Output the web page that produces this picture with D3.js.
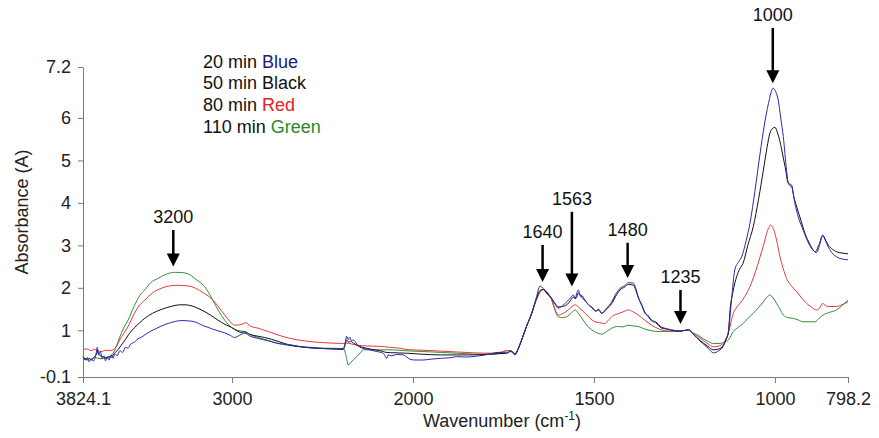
<!DOCTYPE html>
<html lang="en">
<head>
<meta charset="UTF-8">
<title>FTIR absorbance spectra</title>
<script src="https://d3js.org/d3.v7.min.js"></script>
<style>
  body { margin: 0; background: #fff; }
  svg text { font-family: Arial, "Liberation Sans", sans-serif; }
</style>
</head>
<body>
<div id="chart"></div>
<script>
// spectra as [wavenumber cm-1, absorbance] pairs
const blue20 = [[3824.1,0.38],[3812,0.30],[3800,0.36],[3790,0.26],[3778,0.32],[3765,0.28],[3752,0.45],[3745,0.60],[3738,0.42],[3728,0.50],[3718,0.33],[3708,0.40],[3700,0.28],[3690,0.38],[3680,0.30],[3668,0.42],[3658,0.34],[3648,0.45],[3635,0.40],[3620,0.52],[3605,0.48],[3590,0.60],[3575,0.58],[3560,0.68],[3540,0.72],[3520,0.80],[3500,0.84],[3483,0.89],[3450,0.98],[3420,1.04],[3391,1.10],[3340,1.18],[3300,1.22],[3271,1.23],[3240,1.22],[3207,1.20],[3160,1.11],[3115,1.04],[3080,0.99],[3041,0.94],[3010,0.88],[2986,0.83],[2960,0.88],[2930,0.93],[2900,0.86],[2857,0.81],[2800,0.75],[2746,0.69],[2680,0.66],[2600,0.60],[2496,0.57],[2385,0.57],[2375,0.70],[2367,0.86],[2358,0.78],[2350,0.84],[2340,0.76],[2330,0.77],[2311,0.68],[2293,0.60],[2250,0.55],[2200,0.50],[2164,0.46],[2155,0.40],[2146,0.34],[2138,0.42],[2120,0.40],[2090,0.43],[2054,0.42],[2035,0.37],[2017,0.32],[1995,0.30],[1972,0.30],[1950,0.32],[1925,0.34],[1900,0.35],[1879,0.38],[1850,0.37],[1824,0.39],[1800,0.42],[1787,0.44],[1765,0.48],[1741,0.47],[1730,0.52],[1718,0.42],[1710,0.55],[1700,0.77],[1686,1.10],[1672,1.40],[1660,1.75],[1649,2.04],[1640,1.98],[1630,1.90],[1617,1.75],[1605,1.58],[1599,1.52],[1587,1.58],[1575,1.67],[1565,1.76],[1557,1.83],[1552,1.74],[1548,1.86],[1543,1.95],[1538,1.80],[1534,1.82],[1525,1.71],[1515,1.60],[1506,1.55],[1495,1.46],[1487,1.50],[1479,1.40],[1465,1.52],[1451,1.67],[1440,1.85],[1428,1.99],[1415,2.05],[1405,2.12],[1391,2.11],[1385,2.00],[1378,1.79],[1368,1.58],[1359,1.40],[1350,1.32],[1341,1.22],[1330,1.18],[1313,1.05],[1300,1.03],[1285,1.01],[1262,0.98],[1239,1.01],[1225,0.90],[1216,0.82],[1198,0.68],[1185,0.58],[1170,0.47],[1155,0.52],[1143,0.62],[1135,0.80],[1129,0.95],[1120,1.71],[1111,2.42],[1100,2.62],[1092,2.73],[1080,3.10],[1069,3.52],[1055,4.30],[1041,5.17],[1030,5.80],[1018,6.34],[1005,6.70],[998,6.62],[991,6.42],[984,6.00],[977,5.56],[968,4.77],[963,4.46],[958,4.40],[954,4.38],[945,3.99],[935,3.65],[922,3.36],[910,3.10],[899,2.93],[885,2.83],[877,3.00],[868,3.23],[860,3.10],[853,2.97],[840,2.80],[830,2.73],[815,2.68],[798.2,2.66]];

const black50 = [[3824.1,0.36],[3812,0.33],[3800,0.30],[3790,0.34],[3778,0.30],[3765,0.36],[3752,0.42],[3745,0.52],[3738,0.44],[3728,0.40],[3715,0.38],[3704,0.36],[3690,0.34],[3680,0.38],[3668,0.36],[3658,0.42],[3645,0.48],[3630,0.55],[3612,0.65],[3590,0.78],[3575,0.88],[3540,1.06],[3510,1.18],[3483,1.28],[3440,1.40],[3391,1.49],[3330,1.57],[3290,1.60],[3260,1.60],[3220,1.57],[3170,1.48],[3120,1.36],[3078,1.24],[3040,1.14],[3004,1.07],[2970,0.98],[2950,0.95],[2930,0.96],[2900,0.90],[2857,0.86],[2820,0.83],[2746,0.74],[2680,0.65],[2600,0.60],[2496,0.57],[2385,0.55],[2375,0.66],[2367,0.77],[2355,0.72],[2345,0.74],[2330,0.70],[2311,0.65],[2250,0.57],[2164,0.50],[2150,0.48],[2100,0.47],[2035,0.46],[1980,0.44],[1925,0.42],[1880,0.42],[1833,0.42],[1790,0.44],[1741,0.46],[1730,0.50],[1718,0.43],[1710,0.55],[1700,0.77],[1686,1.10],[1672,1.40],[1660,1.72],[1649,1.94],[1640,1.96],[1630,1.88],[1617,1.75],[1605,1.60],[1599,1.55],[1587,1.56],[1575,1.60],[1565,1.70],[1557,1.78],[1550,1.75],[1543,1.88],[1534,1.78],[1525,1.70],[1515,1.60],[1506,1.53],[1495,1.45],[1487,1.48],[1479,1.40],[1465,1.50],[1451,1.63],[1440,1.80],[1428,1.95],[1415,2.02],[1405,2.08],[1391,2.06],[1385,1.96],[1378,1.78],[1368,1.60],[1359,1.42],[1350,1.34],[1341,1.24],[1330,1.20],[1313,1.07],[1300,1.04],[1285,1.00],[1262,0.98],[1239,1.01],[1225,0.90],[1216,0.83],[1198,0.70],[1185,0.62],[1170,0.54],[1155,0.56],[1143,0.64],[1135,0.78],[1129,0.93],[1124,1.48],[1115,1.95],[1106,2.26],[1097,2.45],[1088,2.58],[1075,3.00],[1060,3.44],[1045,4.10],[1032,4.77],[1022,5.30],[1014,5.64],[1007,5.75],[1000,5.78],[993,5.65],[986,5.44],[979,5.15],[972,4.85],[963,4.46],[958,4.44],[954,4.42],[948,4.15],[940,3.91],[928,3.58],[917,3.28],[903,3.02],[889,2.85],[878,3.02],[868,3.24],[860,3.12],[853,3.01],[840,2.90],[830,2.85],[815,2.82],[798.2,2.80]];

const red80 = [[3824.1,0.55],[3800,0.56],[3780,0.52],[3760,0.55],[3741,0.52],[3720,0.50],[3700,0.53],[3680,0.52],[3658,0.54],[3640,0.62],[3620,0.78],[3600,0.92],[3575,1.09],[3540,1.40],[3510,1.60],[3483,1.71],[3440,1.88],[3391,1.99],[3340,2.05],[3299,2.06],[3260,2.05],[3226,2.03],[3180,1.94],[3150,1.86],[3115,1.75],[3080,1.58],[3041,1.36],[3010,1.20],[2986,1.12],[2960,1.13],[2940,1.15],[2922,1.18],[2900,1.10],[2857,1.05],[2800,0.97],[2746,0.89],[2680,0.81],[2600,0.75],[2496,0.71],[2385,0.69],[2370,0.70],[2311,0.65],[2250,0.63],[2180,0.62],[2128,0.60],[2080,0.58],[2017,0.54],[1970,0.53],[1925,0.51],[1880,0.49],[1833,0.47],[1787,0.46],[1760,0.48],[1740,0.52],[1725,0.50],[1718,0.45],[1710,0.55],[1700,0.77],[1686,1.10],[1672,1.40],[1660,1.70],[1649,1.90],[1640,1.96],[1630,1.86],[1617,1.72],[1608,1.50],[1599,1.36],[1585,1.40],[1571,1.48],[1560,1.56],[1552,1.60],[1543,1.55],[1534,1.48],[1520,1.36],[1508,1.26],[1497,1.20],[1485,1.18],[1470,1.16],[1460,1.24],[1451,1.32],[1430,1.40],[1415,1.45],[1405,1.48],[1393,1.44],[1378,1.36],[1360,1.24],[1341,1.12],[1320,1.03],[1304,0.99],[1280,0.98],[1262,0.98],[1239,1.01],[1225,0.92],[1216,0.87],[1198,0.76],[1185,0.68],[1170,0.61],[1155,0.63],[1143,0.69],[1129,0.93],[1115,1.40],[1105,1.55],[1097,1.63],[1083,1.80],[1069,2.03],[1055,2.35],[1041,2.73],[1030,3.05],[1023,3.28],[1017,3.42],[1012,3.48],[1006,3.42],[1000,3.28],[993,3.02],[986,2.73],[977,2.45],[968,2.22],[955,2.05],[940,1.91],[925,1.75],[912,1.63],[900,1.55],[885,1.48],[877,1.52],[868,1.63],[860,1.58],[853,1.56],[840,1.56],[830,1.56],[815,1.60],[798.2,1.67]];

const green110 = [[3824.1,0.34],[3800,0.33],[3778,0.32],[3760,0.36],[3741,0.34],[3720,0.33],[3700,0.35],[3680,0.38],[3658,0.46],[3640,0.62],[3620,0.85],[3600,1.05],[3575,1.24],[3540,1.58],[3510,1.82],[3483,1.95],[3450,2.12],[3410,2.22],[3370,2.31],[3317,2.365],[3280,2.36],[3244,2.33],[3200,2.20],[3152,2.03],[3115,1.78],[3078,1.48],[3041,1.24],[3004,1.07],[2970,1.00],[2950,0.98],[2930,0.97],[2900,0.90],[2857,0.83],[2800,0.76],[2746,0.69],[2680,0.64],[2600,0.61],[2496,0.58],[2385,0.57],[2370,0.40],[2358,0.18],[2345,0.24],[2330,0.30],[2311,0.38],[2290,0.47],[2275,0.54],[2200,0.54],[2128,0.54],[2050,0.52],[1972,0.50],[1925,0.48],[1879,0.46],[1833,0.44],[1787,0.43],[1760,0.46],[1740,0.52],[1725,0.50],[1718,0.45],[1710,0.55],[1700,0.77],[1686,1.10],[1672,1.40],[1660,1.70],[1649,1.90],[1640,1.96],[1630,1.86],[1617,1.72],[1608,1.48],[1599,1.32],[1587,1.30],[1575,1.32],[1562,1.42],[1552,1.48],[1543,1.40],[1530,1.24],[1518,1.10],[1506,1.01],[1492,0.94],[1479,0.91],[1465,0.97],[1451,1.05],[1433,1.09],[1420,1.08],[1405,1.12],[1390,1.10],[1378,1.09],[1360,1.03],[1341,0.99],[1320,0.97],[1304,0.97],[1280,0.97],[1262,0.98],[1239,1.01],[1225,0.93],[1216,0.90],[1198,0.80],[1185,0.74],[1170,0.69],[1152,0.69],[1140,0.72],[1129,0.77],[1115,0.97],[1100,1.08],[1088,1.16],[1075,1.28],[1060,1.40],[1045,1.54],[1032,1.67],[1022,1.78],[1014,1.83],[1005,1.76],[995,1.63],[985,1.48],[977,1.36],[965,1.30],[949,1.28],[935,1.24],[922,1.20],[905,1.20],[889,1.20],[878,1.28],[867,1.36],[850,1.42],[830,1.48],[815,1.58],[798.2,1.71]];

// axes
const xTickValues = [3824.1, 3000, 2000, 1500, 1000, 798.2];
const xTickLabels = ['3824.1', '3000', '2000', '1500', '1000', '798.2'];
const yTickValues = [-0.1, 1, 2, 3, 4, 5, 6, 7.2];
const yTickLabels = ['-0.1', '1', '2', '3', '4', '5', '6', '7.2'];

// legend
const legendTimes = ['20 min', '50 min', '80 min', '110 min'];
const legendNames = ['Blue', 'Black', 'Red', 'Green'];

// peak annotations: label, wavenumber where the arrow sits, arrow tail and tip (absorbance)
const annoLabels = ['3200', '1640', '1563', '1480', '1235', '1000'];
const annoWaves = [3325, 1642, 1561, 1407, 1261, 1006];
const annoTail = [3.36, 3.01, 3.79, 3.06, 1.95, 8.12];
const annoTip = [2.50, 2.14, 2.03, 2.23, 1.15, 6.82];

const width = 879, height = 438;
const colors = { Blue: '#2a2ab0', Black: '#111111', Red: '#e23a3a', Green: '#2f8f3a' };
const legendColors = { Blue: '#202078', Black: '#111111', Red: '#e02424', Green: '#2a8a2a' };

const svg = d3.select('#chart').append('svg')
    .attr('width', width)
    .attr('height', height);

// OMNIC style axis: region above 2000 cm-1 is compressed by half
const x = d3.scaleLinear()
    .domain([3824.1, 2000, 798.2])
    .range([83, 413, 848]);

const y = d3.scaleLinear()
    .domain([-0.1, 7.2])
    .range([377, 67]);

const xAxis = svg.append('g')
    .attr('transform', `translate(0,${y(-0.1)})`)
    .call(d3.axisBottom(x).tickValues(xTickValues)
        .tickFormat((d, i) => xTickLabels[i])
        .tickSize(6).tickSizeOuter(0).tickPadding(9));

const yAxis = svg.append('g')
    .attr('transform', `translate(${x(3824.1)},0)`)
    .call(d3.axisLeft(y).tickValues(yTickValues)
        .tickFormat((d, i) => yTickLabels[i])
        .tickSize(5).tickSizeOuter(0).tickPadding(7));

[xAxis, yAxis].forEach(g => {
    g.select('.domain').attr('stroke', '#7a7a7a');
    g.selectAll('.tick line').attr('stroke', '#7a7a7a');
    g.selectAll('.tick text')
        .attr('fill', '#222')
        .style('font-size', '18px')
        .style('font-family', 'Arial, "Liberation Sans", sans-serif');
});

// axis titles
const xTitle = svg.append('text')
    .attr('x', 423)
    .attr('y', 427)
    .attr('fill', '#222')
    .style('font-size', '18px');
xTitle.append('tspan').text('Wavenumber (cm');
xTitle.append('tspan').text('-1').attr('dy', -7).style('font-size', '12px');
xTitle.append('tspan').text(')').attr('dy', 7);

svg.append('text')
    .attr('transform', 'translate(28,212) rotate(-90)')
    .attr('text-anchor', 'middle')
    .attr('fill', '#222')
    .style('font-size', '18px')
    .text('Absorbance (A)');

// spectra
const line = d3.line()
    .x(d => x(d[0]))
    .y(d => y(d[1]))
    .curve(d3.curveMonotoneX);

const series = [
    { name: 'Green', values: green110 },
    { name: 'Red', values: red80 },
    { name: 'Black', values: black50 },
    { name: 'Blue', values: blue20 }
];

svg.selectAll('.spectrum')
    .data(series)
    .enter().append('path')
    .attr('class', 'spectrum')
    .attr('d', d => line(d.values))
    .attr('fill', 'none')
    .attr('stroke', d => colors[d.name])
    .attr('stroke-width', 1)
    .attr('stroke-linejoin', 'round');

// legend
const legend = svg.append('g');
legendTimes.forEach((t, i) => {
    const txt = legend.append('text')
        .attr('x', 203)
        .attr('y', 67.5 + i * 21.7)
        .style('font-size', '18px');
    txt.append('tspan').attr('fill', '#111').text(t + ' ');
    txt.append('tspan').attr('fill', legendColors[legendNames[i]]).text(legendNames[i]);
});

// arrows
const anno = svg.append('g');
annoLabels.forEach((lab, i) => {
    const ax = x(annoWaves[i]);
    const top = y(annoTail[i]);
    const tip = y(annoTip[i]);
    anno.append('line')
        .attr('x1', ax).attr('x2', ax)
        .attr('y1', top).attr('y2', tip - 10)
        .attr('stroke', '#000')
        .attr('stroke-width', 2.5);
    anno.append('path')
        .attr('d', `M${ax - 6.5},${tip - 13}L${ax + 6.5},${tip - 13}L${ax},${tip}Z`)
        .attr('fill', '#000');
    anno.append('text')
        .attr('x', ax)
        .attr('y', top - 7)
        .attr('text-anchor', 'middle')
        .attr('fill', '#111')
        .style('font-size', '18px')
        .text(lab);
});
</script>
</body>
</html>
